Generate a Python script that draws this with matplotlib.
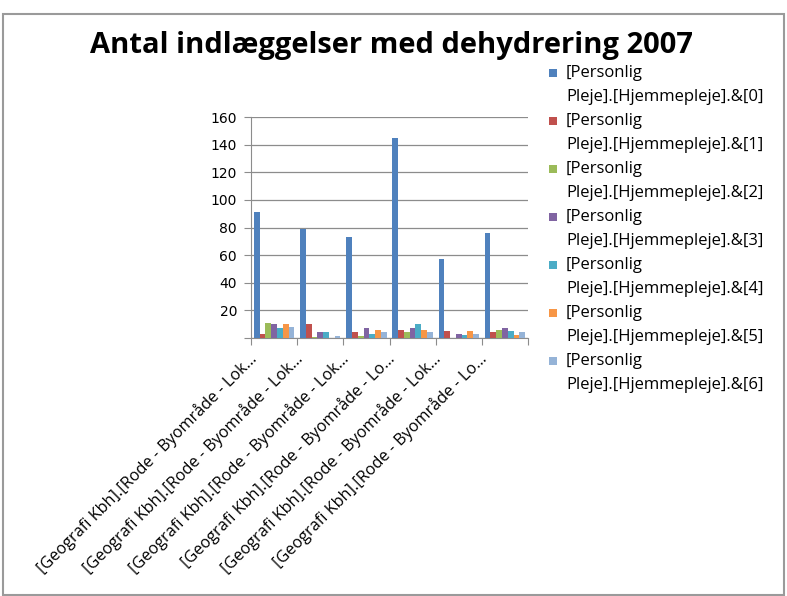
import matplotlib
matplotlib.use("Agg")
import matplotlib.pyplot as plt
from matplotlib.patches import Rectangle

title = "Antal indlæggelser med dehydrering 2007"
categories = [
    "[Geografi Kbh].[Rode - Byområde - Lok…",
    "[Geografi Kbh].[Rode - Byområde - Lok…",
    "[Geografi Kbh].[Rode - Byområde - Lok…",
    "[Geografi Kbh].[Rode - Byområde - Lo…",
    "[Geografi Kbh].[Rode - Byområde - Lok…",
    "[Geografi Kbh].[Rode - Byområde - Lo…",
]
series_names = ["[Personlig\nPleje].[Hjemmepleje].&[%d]" % i for i in range(7)]
s0 = [91, 79, 73, 145, 57, 76]
s1 = [3, 10, 4, 6, 5, 4]
s2 = [11, 1, 1.5, 4, 0, 6]
s3 = [10, 4, 7, 7, 3, 7]
s4 = [7, 4, 3, 10, 2, 5]
s5 = [10, 0, 6, 6, 5, 2]
s6 = [8, 1.5, 4, 4, 3, 4]
series = [s0, s1, s2, s3, s4, s5, s6]
colors = ["#4F81BD", "#C0504D", "#9BBB59", "#8064A2", "#4BACC6", "#F79646", "#95B3D7"]
yticks = [20, 40, 60, 80, 100, 120, 140, 160]

W, H = 787, 596
fig = plt.figure(figsize=(W / 100, H / 100), dpi=100)
fig.patch.set_facecolor("white")

# chart border
fig.add_artist(Rectangle((3 / W, 1 - 595 / H), 781 / W, 581 / H, transform=fig.transFigure,
                         fill=False, edgecolor="#9a9a9a", linewidth=1.5))

ax = fig.add_axes([251 / W, 1 - 338 / H, 277 / W, 221 / H])
bw = 0.125
for j, (vals, c) in enumerate(zip(series, colors)):
    xs = [i + 0.0625 + j * bw for i in range(len(categories))]
    ax.bar(xs, vals, width=bw, align="edge", color=c, linewidth=0, zorder=3)

ax.set_xlim(0, 6)
ax.set_ylim(0, 160)
ax.set_yticks([0] + yticks)
ax.set_yticklabels([""] + [str(v) for v in yticks], fontsize=10, family="DejaVu Sans")
ax.set_xticks(range(7))
ax.set_xticklabels([])
ax.yaxis.grid(True, color="#8c8c8c", linewidth=0.9, zorder=0)
for s in ["top", "right"]:
    ax.spines[s].set_visible(False)
for s in ["left", "bottom"]:
    ax.spines[s].set_color("#8c8c8c")
ax.tick_params(axis="both", color="#8c8c8c", length=5, direction="out")
ax.tick_params(axis="y", pad=5)

# category labels
for i, lab in enumerate(categories):
    x_px = 251 + 46 * i + 10
    fig.text(x_px / W, 1 - 350 / H, lab, rotation=45, ha="right", va="top",
             fontsize=11.7, family="Open Sans", color="black")

fig.text(391 / W, 1 - 45 / H, title, ha="center", va="center", fontsize=21,
         fontweight="bold", family="Open Sans")

# legend
for j, (name, c) in enumerate(zip(series_names, colors)):
    y0 = 73 + 48 * j
    fig.add_artist(Rectangle((549 / W, 1 - (y0 + 4) / H), 8 / W, 8 / H,
                             transform=fig.transFigure, color=c, linewidth=0))
    first, second = name.split("\n")
    fig.text(566 / W, 1 - y0 / H, first, ha="left", va="center", fontsize=12, family="Open Sans")
    fig.text(566 / W, 1 - (y0 + 24) / H, second, ha="left", va="center", fontsize=12, family="Open Sans")

fig.savefig("out.png", dpi=100, facecolor="white")
